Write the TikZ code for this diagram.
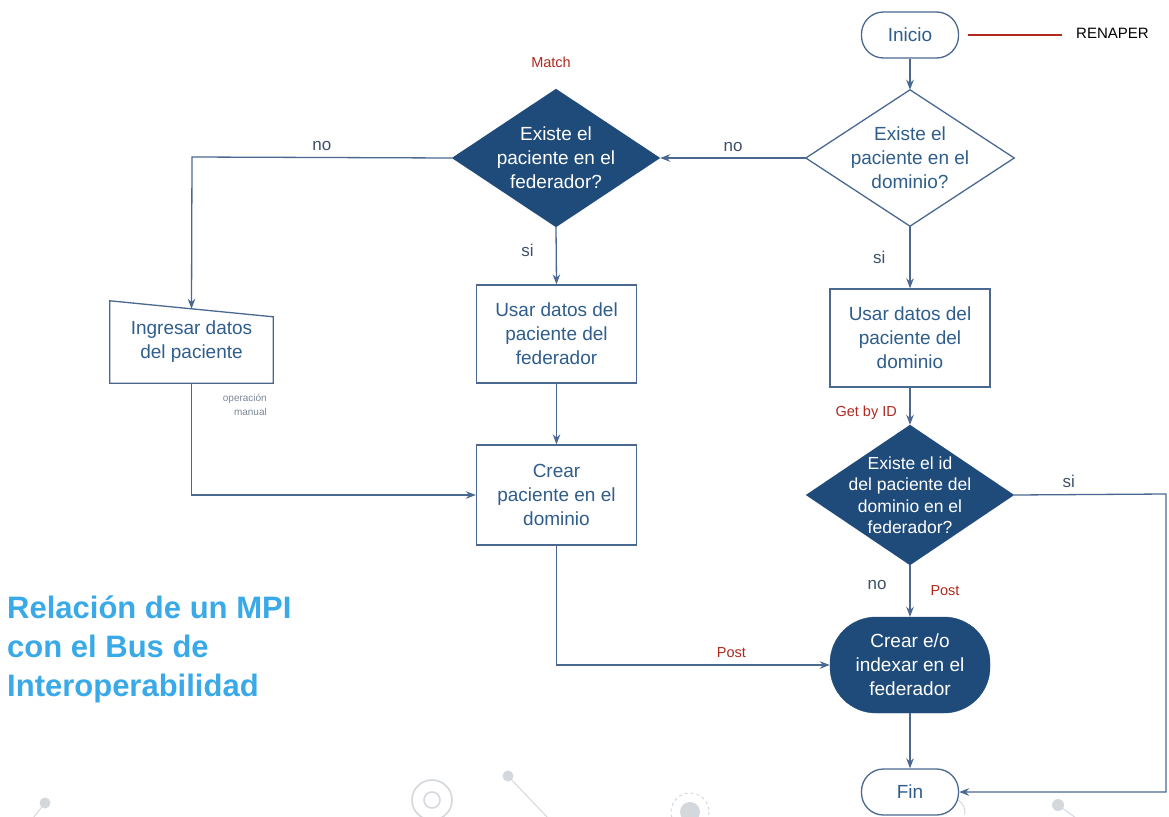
\documentclass[tikz,border=0pt]{standalone}
\usepackage{fontspec}
\setmainfont{Liberation Sans}
\usetikzlibrary{arrows.meta,calc,backgrounds}
\definecolor{navy}{HTML}{1F4B7A}
\definecolor{edge}{HTML}{4A6890}
\definecolor{txtblue}{HTML}{2F5E8C}
\definecolor{lbl}{HTML}{3E5068}
\definecolor{redlbl}{HTML}{B0281E}
\definecolor{titleblue}{HTML}{3AA9E8}
\definecolor{deco}{HTML}{D3D8DD}
\definecolor{note}{HTML}{7A8699}

\begin{document}
\begin{tikzpicture}[x=1pt,y=-1pt,
  every node/.style={font=\fontsize{19}{24}\selectfont, align=center, inner sep=0pt},
  outline/.style={draw=edge, line width=1.3pt, fill=white, text=txtblue},
  filled/.style={fill=navy, draw=navy, text=white},
  decision/.style={rectangle, minimum width=208pt, minimum height=138pt},
  box/.style={rectangle, minimum width=160pt, minimum height=98pt},
  term/.style={rectangle, rounded corners=22pt, minimum width=97pt, minimum height=46pt},
  link/.style={draw=edge, line width=1.3pt, -{Stealth[length=10pt,width=7.5pt]}},
  choice/.style={font=\fontsize{17}{20}\selectfont, text=lbl},
  api/.style={font=\fontsize{14.5}{17}\selectfont, text=redlbl},
]
\useasboundingbox (0,0) rectangle (1169,816);

% faint background ornaments along the bottom edge
\begin{scope}[on background layer]
  \fill[deco] (45,803) circle (5.5);
  \draw[deco, line width=1pt] (45,803) -- (33,818);
  \draw[deco, line width=1.6pt] (432,800) circle (20);
  \draw[deco, line width=1.6pt] (432,800) circle (8);
  \fill[deco] (508,776) circle (5.5);
  \draw[deco, line width=1pt] (508,776) -- (548,818);
  \draw[deco, line width=1pt, dashed] (690,812) circle (19);
  \fill[deco] (690,812) circle (10);
  \fill[deco] (1058,805) circle (6);
  \draw[deco, line width=1pt] (1058,805) -- (1076,818);
  \draw[deco, line width=1pt] (958,800) arc (-60:10:14);
\end{scope}

% title
\node[anchor=north west, align=left, text=titleblue,
      font=\bfseries\fontsize{31}{39}\selectfont] (title) at (7,596)
  {Relación de un MPI\\con el Bus de\\Interoperabilidad};

% flow nodes
\node[term,outline] (start) at (910,35) {Inicio};
\node[anchor=west, font=\fontsize{15}{18}\selectfont] (ren) at (1076,33) {RENAPER};

\node[decision, minimum height=136pt, text=txtblue] (d1) at (910,158) {Existe el\\paciente en el\\dominio?};
\node[decision, text=white] (d2) at (556,158) {Existe el\\paciente en el\\federador?};
\node[decision, minimum height=140pt, text=white, font=\fontsize{17.5}{21.5}\selectfont] (d3) at (910,495)
  {Existe el id\\del paciente del\\dominio en el\\federador?};
\begin{scope}[on background layer]
  \filldraw[draw=edge, fill=white, line width=1.3pt]
    (d1.north) -- (d1.east) -- (d1.south) -- (d1.west) -- cycle;
  \fill[navy] (d2.north) -- (d2.east) -- (d2.south) -- (d2.west) -- cycle;
  \fill[navy] (d3.north) -- (d3.east) -- (d3.south) -- (d3.west) -- cycle;
\end{scope}

\node[box,outline] (ud) at (910,338) {Usar datos del\\paciente del\\dominio};
\node[box,outline] (uf) at (556.5,334) {Usar datos del\\paciente del\\federador};
\node[box,outline, minimum height=100pt] (cp) at (556.5,495) {Crear\\paciente en el\\dominio};
\node[filled, rectangle, rounded corners=46pt, minimum width=160pt, minimum height=96pt] (ce) at (910,665)
  {Crear e/o\\indexar en el\\federador};
\node[term,outline] (end) at (910,792) {Fin};

% manual input shape
\node[rectangle, minimum width=163pt, minimum height=82pt, text=txtblue] (ing) at (191.5,342)
  {Ingresar datos\\del paciente};
\begin{scope}[on background layer]
  \filldraw[draw=edge, fill=white, line width=1.3pt]
    (ing.south west) -- (ing.north west) -- ([yshift=-16pt]ing.north east) -- (ing.south east) -- cycle;
\end{scope}
\coordinate (ingtop) at ($(ing.north west)!0.5!([yshift=-16pt]ing.north east)$);
\node[anchor=east, align=right, text=note, font=\fontsize{10}{14}\selectfont] (op) at (267,405)
  {operación\\manual};

% connectors
\draw[redlbl, line width=1.5pt] ([xshift=9pt]start.east) -- ([xshift=-14pt]ren.west |- start.east);
\draw[link] (start) -- (d1.north);
\draw[link] (d1.west) -- node[choice, above=6pt] {no} (d2.east);
\coordinate (lc) at (192,157);
\draw[link] (d2.west) -- node[choice, above=6pt] {no} (lc) -- (ingtop);
\draw[link] (d2.south) -- node[choice, left=22pt, yshift=5pt] {si} (uf.north);
\draw[link] (uf) -- (cp);
\draw[link] (ing.south) |- (cp.west);
\draw[link] (d1.south) -- node[choice, left=24pt] {si} (ud.north);
\draw[link] (ud.south) -- (d3.north);
\node[api, anchor=east] (gid) at (897,413) {Get by ID};
\coordinate (rc) at (1166,494);
\draw[link] (d3.east) -- node[choice, above=6pt, pos=0.36] {si} (rc) |- (end.east);
\draw[link] (d3.south) -- (ce.north);
\node[choice] (no3) at (877,585) {no};
\node[api] (post1) at (945,591) {Post};
\draw[link] (cp.south) |- node[api, above=7pt, pos=0.82] {Post} (ce.west);
\draw[link] (ce.south) -- (end.north);
\node[api] (match) at (551,62) {Match};
\end{tikzpicture}
\end{document}
